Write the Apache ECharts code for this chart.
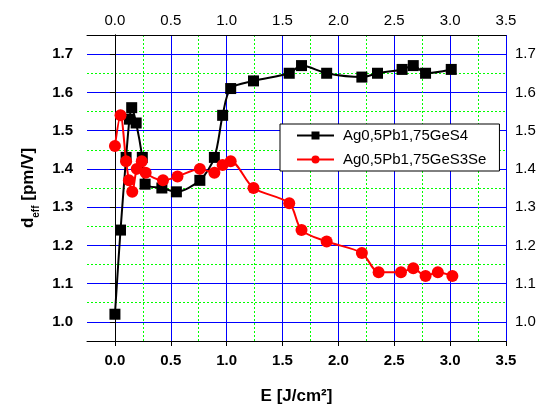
<!DOCTYPE html>
<html>
<head>
<meta charset="utf-8">
<script src="https://cdn.jsdelivr.net/npm/echarts@6/dist/echarts.min.js"></script>
<style>
  html, body { margin: 0; padding: 0; background: #fff; }
  #chart { width: 539px; height: 410px; }
</style>
</head>
<body>
<div id="chart"></div>
<script>
// 数据
var seriesNames = ['Ag0,5Pb1,75GeS4', 'Ag0,5Pb1,75GeS3Se']
var blackX = [0.00, 0.05, 0.10, 0.13, 0.15, 0.19, 0.245, 0.27, 0.42, 0.55, 0.76, 0.89, 0.964, 1.036, 1.24, 1.56, 1.67, 1.895, 2.21, 2.35, 2.57, 2.67, 2.78, 3.01]
var blackY = [1.02, 1.24, 1.43, 1.53, 1.56, 1.52, 1.43, 1.36, 1.35, 1.34, 1.37, 1.43, 1.54, 1.61, 1.63, 1.65, 1.67, 1.65, 1.64, 1.65, 1.66, 1.67, 1.65, 1.66]
var redX = [0.00, 0.05, 0.10, 0.125, 0.155, 0.195, 0.24, 0.275, 0.43, 0.56, 0.76, 0.89, 0.964, 1.036, 1.24, 1.56, 1.67, 1.895, 2.21, 2.36, 2.56, 2.67, 2.78, 2.89, 3.02]
var redY = [1.46, 1.54, 1.42, 1.37, 1.34, 1.40, 1.42, 1.39, 1.37, 1.38, 1.40, 1.39, 1.41, 1.42, 1.35, 1.31, 1.24, 1.21, 1.18, 1.13, 1.13, 1.14, 1.12, 1.13, 1.12]

// tick labels
var xMajor = [0, 0.5, 1.0, 1.5, 2.0, 2.5, 3.0, 3.5]
var xMinor = [0.25, 0.75, 1.25, 1.75, 2.25, 2.75, 3.25]
var yMajor = [1.0, 1.1, 1.2, 1.3, 1.4, 1.5, 1.6, 1.7]
var yMinor = [1.05, 1.15, 1.25, 1.35, 1.45, 1.55, 1.65]

var font = 'Liberation Sans, Arial, sans-serif'

function pairs (xs, ys) {
  return xs.map(function (x, i) { return [x, ys[i]] })
}

var chart = echarts.init(document.getElementById('chart'))
chart.setOption({
  animation: false,
  textStyle: { fontFamily: font },
  grid: { left: 87, right: 33, top: 35, bottom: 67, containLabel: false },
  legend: {
    orient: 'vertical',
    left: 280,
    top: 124,
    padding: [4, 13, 4, 16],
    backgroundColor: '#fff',
    borderColor: '#000',
    borderWidth: 1,
    borderRadius: 0,
    itemWidth: 37,
    itemHeight: 10,
    itemGap: 9,
    textStyle: { fontSize: 15, color: '#000', fontFamily: font, padding: [0, 0, 0, 4] },
    data: seriesNames
  },
  xAxis: [
    {
      type: 'value',
      position: 'bottom',
      min: -0.25,
      max: 3.5,
      name: 'E [J/cm²]',
      nameLocation: 'middle',
      nameGap: 47,
      nameTextStyle: { fontSize: 17, fontWeight: 'bold', color: '#000', fontFamily: font },
      axisLine: { show: true, lineStyle: { color: '#000', width: 1 } },
      axisTick: { show: true, inside: false, length: 5, customValues: xMajor, lineStyle: { color: '#000' } },
      axisLabel: {
        customValues: xMajor,
        margin: 12,
        fontSize: 15,
        fontWeight: 'bold',
        color: '#000',
        formatter: function (v) { return v.toFixed(1) }
      },
      splitLine: { show: true, lineStyle: { color: '#0000ff', width: 1, type: 'solid' } }
    },
    {
      // 次网格线
      type: 'value',
      position: 'bottom',
      min: -0.25,
      max: 3.5,
      axisLine: { show: false },
      axisTick: { show: false, customValues: xMinor },
      axisLabel: { show: false, customValues: xMinor },
      splitLine: { show: true, lineStyle: { color: '#00ff00', width: 1, type: [2, 2] } }
    },
    {
      type: 'value',
      position: 'top',
      min: -0.25,
      max: 3.5,
      axisLine: { show: true, lineStyle: { color: '#000', width: 1 } },
      axisTick: { show: false, customValues: xMajor },
      axisLabel: {
        customValues: xMajor,
        margin: 7,
        fontSize: 15,
        color: '#000',
        formatter: function (v) { return v.toFixed(1) }
      },
      splitLine: { show: false }
    }
  ],
  yAxis: [
    {
      type: 'value',
      position: 'left',
      min: 0.95,
      max: 1.75,
      name: '{a|d}{b|eff}{a| [pm/V]}',
      nameLocation: 'middle',
      nameRotate: 90,
      nameGap: 50,
      nameTextStyle: {
        color: '#000',
        rich: {
          a: { fontSize: 17, fontWeight: 'bold', fontFamily: font, color: '#000', lineHeight: 20, verticalAlign: 'bottom' },
          b: { fontSize: 10, fontWeight: 'bold', fontFamily: font, color: '#000', lineHeight: 14, verticalAlign: 'bottom', padding: [0, 0, -4, 0] }
        }
      },
      axisLine: { show: true, lineStyle: { color: '#000', width: 1 } },
      axisTick: { show: true, inside: false, length: 5, customValues: yMajor, lineStyle: { color: '#000' } },
      axisLabel: {
        customValues: yMajor,
        margin: 14,
        fontSize: 15,
        fontWeight: 'bold',
        color: '#000',
        formatter: function (v) { return v.toFixed(1) }
      },
      splitLine: { show: true, lineStyle: { color: '#0000ff', width: 1, type: 'solid' } }
    },
    {
      type: 'value',
      position: 'left',
      min: 0.95,
      max: 1.75,
      axisLine: { show: false },
      axisTick: { show: false, customValues: yMinor },
      axisLabel: { show: false, customValues: yMinor },
      splitLine: { show: true, lineStyle: { color: '#00ff00', width: 1, type: [2, 2] } }
    },
    {
      type: 'value',
      position: 'right',
      min: 0.95,
      max: 1.75,
      axisLine: { show: true, lineStyle: { color: '#000', width: 1 } },
      axisTick: { show: true, inside: true, length: 5, customValues: yMajor, lineStyle: { color: '#000' } },
      axisLabel: {
        customValues: yMajor,
        margin: 9,
        fontSize: 15,
        color: '#000',
        formatter: function (v) { return v.toFixed(1) }
      },
      splitLine: { show: false }
    }
  ],
  series: [
    {
      name: seriesNames[0],
      type: 'line',
      xAxisIndex: 0,
      yAxisIndex: 0,
      smooth: 0.3,
      symbol: 'rect',
      symbolSize: 11,
      z: 3,
      itemStyle: { color: '#000' },
      lineStyle: { color: '#000', width: 2 },
      data: pairs(blackX, blackY)
    },
    {
      name: seriesNames[1],
      type: 'line',
      xAxisIndex: 0,
      yAxisIndex: 0,
      smooth: 0.3,
      symbol: 'circle',
      symbolSize: 12,
      z: 4,
      itemStyle: { color: '#ff0000' },
      lineStyle: { color: '#ff0000', width: 2 },
      data: pairs(redX, redY)
    }
  ]
})
</script>
</body>
</html>
